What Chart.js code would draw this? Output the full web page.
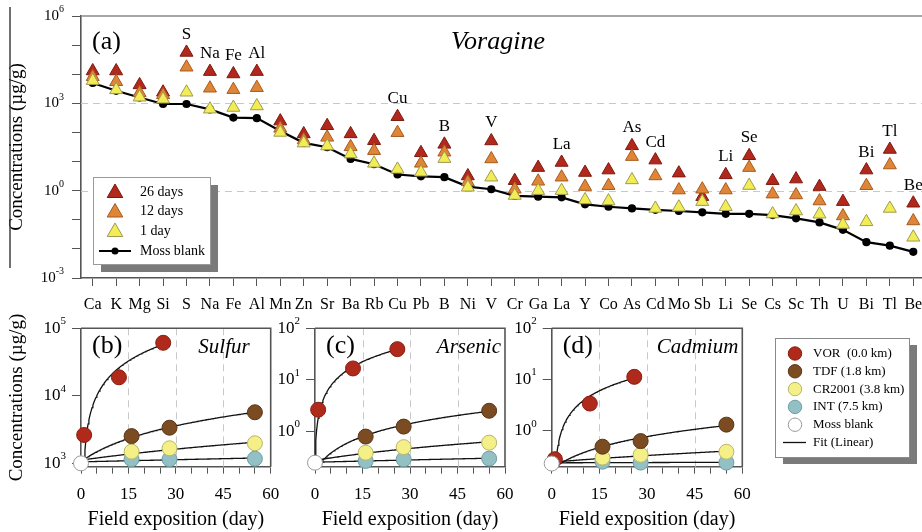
<!DOCTYPE html>
<html><head><meta charset="utf-8">
<script src="https://cdn.jsdelivr.net/npm/chart.js@4/dist/chart.umd.min.js"></script>
<style>
html,body{margin:0;padding:0;overflow:hidden;background:#fff;width:922px;height:532px;position:relative;}
canvas{position:absolute;}
</style></head><body>
<canvas id="ca" width="925" height="320" style="left:0;top:0"></canvas>
<canvas id="cb" width="290" height="232" style="left:0;top:300px"></canvas>
<canvas id="cc" width="245" height="232" style="left:276px;top:300px"></canvas>
<canvas id="cd" width="416" height="232" style="left:506px;top:300px"></canvas>
<script>
// ---------- Panel (a) data (µg/g) ----------
const elements = ['Ca','K','Mg','Si','S','Na','Fe','Al','Mn','Zn','Sr','Ba','Rb','Cu','Pb','B','Ni','V','Cr','Ga','La','Y','Co','As','Cd','Mo','Sb','Li','Se','Cs','Sc','Th','U','Bi','Tl','Be'];
const days26 = [12900,12900,4300,2400,56000,12300,10200,12300,245,89,170,89,52,347,20,39,3.2,51,2.2,6.2,9.3,4.2,5.1,34.7,11.2,4.0,0.62,3.5,15.8,2.2,2.5,1.38,0.42,5.1,26,0.37];
const days12 = [8200,5500,2300,1950,17400,3300,2950,3450,138,55,68,32,23.6,98,8.7,21,2.0,12.3,1.12,2.1,2.9,1.38,1.48,14.8,3.2,1.05,1.12,1.05,6.2,0.76,0.71,0.44,0.135,1.48,7.6,0.091];
const days1 = [6000,2900,1620,1380,2400,630,720,810,100,43,34,18,8.7,5.4,4.3,12.6,1.3,2.9,0.68,1.0,1.0,0.48,0.44,2.34,0.245,0.27,0.42,0.28,1.5,0.158,0.20,0.155,0.069,0.085,0.245,0.025];
const mossBlank = [5000,2700,1580,950,950,620,325,310,112,44,31,12.3,8.1,3.6,3.1,2.9,1.38,1.12,0.66,0.62,0.59,0.34,0.28,0.245,0.22,0.20,0.18,0.16,0.16,0.145,0.112,0.081,0.045,0.017,0.0129,0.0079];
const labelledElements = ['S','Na','Fe','Al','Cu','B','V','La','As','Cd','Li','Se','Bi','Tl','Be'];
const yTicksA = [1e-3,1e-2,1e-1,1e0,1e1,1e2,1e3,1e4,1e5,1e6];
const yLabelExpA = [-3,0,3,6];

// ---------- Panels (b)-(d) data ----------
const vorDays = [1,12,26];
const otherDays = [16,28,55];
const xTicksDays = [0,15,30,45,60];
const sulfurVOR = [2630,18800,61000];
const sulfurTDF = [2530,3370,5700];
const sulfurCR = [1490,1670,1980];
const sulfurINT = [1150,1150,1170];
const sulfurBlank = 1000;
const arsenicVOR = [2.65,16.7,39.5];
const arsenicTDF = [0.80,1.25,2.53];
const arsenicCR = [0.39,0.50,0.61];
const arsenicINT = [0.27,0.29,0.30];
const arsenicBlank = 0.25;
const cadmiumVOR = [0.28,3.4,11.3];
const cadmiumTDF = [0.49,0.63,1.32];
const cadmiumCR = [0.30,0.34,0.39];
const cadmiumINT = [0.25,0.24,0.24];
const cadmiumBlank = 0.23;
const stationNames = ['VOR  (0.0 km)','TDF (1.8 km)','CR2001 (3.8 km)','INT (7.5 km)','Moss blank','Fit (Linear)'];

const SERIF = '"Liberation Serif", "Times New Roman", serif';
const AXIS = '#555';

function zeroPad(s){ s.paddingLeft = 0; s.paddingRight = 0; s.paddingTop = 0; s.paddingBottom = 0; }
function drawPow(ctx, xRight, y, exp, size){
  ctx.save();
  ctx.fillStyle = '#000';
  ctx.textBaseline = 'middle';
  const sup = Math.round(size*0.66);
  ctx.font = sup + 'px ' + SERIF;
  const es = String(exp);
  const ew = ctx.measureText(es).width;
  ctx.textAlign = 'left';
  ctx.fillText(es, xRight - ew, y - size*0.42);
  ctx.font = size + 'px ' + SERIF;
  ctx.textAlign = 'right';
  ctx.fillText('10', xRight - ew, y);
  ctx.restore();
}
function drawTri(ctx, x, y, r, fill, stroke){
  ctx.save();
  ctx.beginPath();
  ctx.moveTo(x, y - r);
  ctx.lineTo(x + r*0.866, y + r*0.5);
  ctx.lineTo(x - r*0.866, y + r*0.5);
  ctx.closePath();
  ctx.fillStyle = fill; ctx.fill();
  ctx.strokeStyle = stroke; ctx.lineWidth = 1; ctx.stroke();
  ctx.restore();
}

Chart.defaults.font.family = SERIF;
Chart.defaults.color = '#000';

// ---------------- Panel (a) ----------------
const triStyles = {
  red: {bg:'#b3281c', bd:'#7d1a10'},
  orange: {bg:'#de8537', bd:'#a85a1c'},
  yellow: {bg:'#f2ec55', bd:'#9e9a55'}
};
const plugA = {
  id:'plugA',
  beforeDatasetsDraw(chart){
    const {ctx, chartArea:ca, scales:{y}} = chart;
    ctx.save();
    ctx.strokeStyle = '#c8c8c8'; ctx.lineWidth = 1; ctx.setLineDash([7,5]);
    [1e0,1e3].forEach(v=>{
      const py = Math.round(y.getPixelForValue(v))+0.5;
      ctx.beginPath(); ctx.moveTo(ca.left, py); ctx.lineTo(ca.right, py); ctx.stroke();
    });
    ctx.restore();
  },
  afterDraw(chart){
    const {ctx, chartArea:ca, scales:{x,y}} = chart;
    ctx.save();
    ctx.strokeStyle = '#8a8a8a'; ctx.lineWidth = 1.6;
    ctx.beginPath(); ctx.moveTo(ca.left, ca.top); ctx.lineTo(ca.right, ca.top); ctx.stroke();
    ctx.strokeStyle = '#222'; ctx.lineWidth = 1.3;
    ctx.beginPath(); ctx.moveTo(10, 7); ctx.lineTo(10, 268); ctx.stroke();
    ctx.restore();
    yLabelExpA.forEach(e=>drawPow(ctx, ca.left - 17, y.getPixelForValue(Math.pow(10,e)), e, 15));
    ctx.save();
    ctx.font = '17px ' + SERIF; ctx.fillStyle = '#000';
    ctx.textAlign = 'center'; ctx.textBaseline = 'middle';
    labelledElements.forEach(el=>{
      const i = elements.indexOf(el);
      ctx.fillText(el, x.getPixelForValue(i), y.getPixelForValue(days26[i]) - 18);
    });
    ctx.font = '26px ' + SERIF; ctx.textAlign = 'left';
    ctx.fillText('(a)', 92, 42);
    ctx.font = 'italic 26px ' + SERIF; ctx.textAlign = 'center';
    ctx.fillText('Voragine', 498, 42);
    ctx.restore();
    const L = {x:93, y:177, w:117, h:87};
    ctx.save();
    ctx.fillStyle = '#7a7a7a'; ctx.fillRect(L.x+8, L.y+8, L.w, L.h);
    ctx.fillStyle = '#fff'; ctx.fillRect(L.x, L.y, L.w, L.h);
    ctx.strokeStyle = '#9a9a9a'; ctx.lineWidth = 1; ctx.strokeRect(L.x+0.5, L.y+0.5, L.w, L.h);
    const ds = chart.data.datasets;
    const rows = [ds[0], ds[1], ds[2]];
    ctx.font = '14px ' + SERIF; ctx.fillStyle = '#000'; ctx.textBaseline = 'middle'; ctx.textAlign = 'left';
    rows.forEach((d,k)=>{
      const ry = 192 + k*19.5;
      drawTri(ctx, 115, ry+1, 9, d.backgroundColor, d.borderColor);
      ctx.fillStyle = '#000';
      ctx.fillText(d.label, 140, ry);
    });
    const my = 251;
    ctx.strokeStyle = '#000'; ctx.lineWidth = 2;
    ctx.beginPath(); ctx.moveTo(99, my); ctx.lineTo(131, my); ctx.stroke();
    ctx.beginPath(); ctx.arc(115, my, 3.5, 0, Math.PI*2); ctx.fillStyle = '#000'; ctx.fill();
    ctx.fillText(ds[3].label, 140, my);
    ctx.restore();
  }
};
new Chart(document.getElementById('ca'), {
  type:'line',
  data:{
    labels: elements,
    datasets:[
      {label:'26 days', data:days26, showLine:false, pointStyle:'triangle', pointRadius:7.5, backgroundColor:triStyles.red.bg, borderColor:triStyles.red.bd, pointBorderWidth:1, order:3, clip:false},
      {label:'12 days', data:days12, showLine:false, pointStyle:'triangle', pointRadius:7.5, backgroundColor:triStyles.orange.bg, borderColor:triStyles.orange.bd, pointBorderWidth:1, order:2, clip:false},
      {label:'1 day', data:days1, showLine:false, pointStyle:'triangle', pointRadius:7.5, backgroundColor:triStyles.yellow.bg, borderColor:triStyles.yellow.bd, pointBorderWidth:1, order:1, clip:false},
      {label:'Moss blank', data:mossBlank, borderColor:'#000', borderWidth:2.2, pointRadius:3, pointBackgroundColor:'#000', pointBorderColor:'#000', tension:0, order:4, clip:false}
    ]
  },
  options:{
    responsive:false, animation:false, events:[],
    layout:{autoPadding:false, padding:{top:16,left:0,right:0,bottom:0}},
    plugins:{legend:{display:false}, tooltip:{enabled:false}},
    scales:{
      x:{type:'category', offset:true,
        grid:{drawOnChartArea:false, tickLength:8, color:AXIS, lineWidth:1, offset:false},
        border:{color:AXIS, width:1.6},
        ticks:{font:{size:16, family:SERIF}, color:'#000', autoSkip:false, maxRotation:0, padding:9},
        afterFit:(s)=>{ s.height = 42; zeroPad(s); }
      },
      y:{type:'logarithmic', min:1e-3, max:1e6,
        afterBuildTicks:(s)=>{ s.ticks = yTicksA.map(v=>({value:v})); },
        grid:{drawOnChartArea:false, tickLength:9, color:AXIS, lineWidth:1},
        border:{color:AXIS, width:1.6},
        ticks:{display:false},
        title:{display:true, text:'Concentrations (µg/g)', font:{size:19, family:SERIF}, color:'#000', padding:{top:6,bottom:0}},
        afterFit:(s)=>{ s.width = 81; zeroPad(s); }
      }
    }
  },
  plugins:[plugA]
});

// ---------------- Panels (b)-(d) ----------------
const COL = {
  vor:{bg:'#b02a1c', bd:'#8a1d12'},
  tdf:{bg:'#7b4b22', bd:'#5a3515'},
  cr:{bg:'#f4ef86', bd:'#b8b46a'},
  int:{bg:'#92c0c5', bd:'#6f9da2'},
  blank:{bg:'#ffffff', bd:'#9a9a9a'}
};
function linFit(xs, ys){
  const n = xs.length;
  const mx = xs.reduce((a,b)=>a+b,0)/n, my = ys.reduce((a,b)=>a+b,0)/n;
  let sxy=0, sxx=0;
  for(let i=0;i<n;i++){ sxy += (xs[i]-mx)*(ys[i]-my); sxx += (xs[i]-mx)*(xs[i]-mx); }
  const b = sxy/sxx; return [my - b*mx, b];
}
function fitLine(days, vals, blank){
  const xs = [0].concat(days), ys = [blank].concat(vals);
  const [a,b] = linFit(xs, ys);
  const end = days[days.length-1];
  const pts = [];
  for(let t=0; t<=end+1e-9; t+=0.25){ const v = a + b*t; pts.push({x:t, y: v>0 ? v : null}); }
  return pts;
}
function pts(days, vals){ return days.map((d,i)=>({x:d, y:vals[i]})); }

function makePanel(id, o){
  const datasets = [];
  [[vorDays,o.vor],[otherDays,o.tdf],[otherDays,o.cr],[otherDays,o.int]].forEach(([d,v])=>{
    datasets.push({data:fitLine(d, v, o.blank), borderColor:'#111', borderWidth:1.3, pointRadius:0, tension:0, order:20, clip:0, spanGaps:false});
  });
  const mk = (data, c, ord)=>({data, showLine:false, pointRadius:7.5, pointBorderWidth:1, backgroundColor:c.bg, borderColor:c.bd, order:ord, clip:false});
  datasets.push(mk(pts(otherDays,o.int), COL.int, 6));
  datasets.push(mk(pts(otherDays,o.cr), COL.cr, 5));
  datasets.push(mk(pts(otherDays,o.tdf), COL.tdf, 4));
  datasets.push(mk(pts(vorDays,o.vor), COL.vor, 3));
  datasets.push(mk([{x:0,y:o.blank}], COL.blank, 1));

  const plug = {
    id:'plug'+id,
    beforeDatasetsDraw(chart){
      const {ctx, chartArea:ca, scales:{x}} = chart;
      ctx.save(); ctx.strokeStyle = '#c8c8c8'; ctx.lineWidth = 1; ctx.setLineDash([7,5]);
      [15,30,45].forEach(v=>{
        const px = Math.round(x.getPixelForValue(v))+0.5;
        ctx.beginPath(); ctx.moveTo(px, ca.top); ctx.lineTo(px, ca.bottom); ctx.stroke();
      });
      ctx.restore();
    },
    afterDraw(chart){
      const {ctx, chartArea:ca, scales:{y}} = chart;
      ctx.save();
      ctx.strokeStyle = AXIS; ctx.lineWidth = 1.6;
      ctx.beginPath(); ctx.moveTo(ca.left, ca.top); ctx.lineTo(ca.right, ca.top); ctx.lineTo(ca.right, ca.bottom); ctx.stroke();
      ctx.restore();
      o.yExp.forEach(e=>drawPow(ctx, ca.left - 15, y.getPixelForValue(Math.pow(10,e)), e, 17));
      ctx.save();
      ctx.fillStyle = '#000'; ctx.textBaseline = 'middle';
      ctx.font = '26px ' + SERIF; ctx.textAlign = 'left';
      ctx.fillText(o.letter, ca.left + 11, ca.top + 18);
      ctx.font = 'italic 21px ' + SERIF; ctx.textAlign = 'right';
      ctx.fillText(o.name, ca.right - o.nameGap, ca.top + 19);
      ctx.restore();
      if(o.legend){
        const L = {x:269, y:38, w:134, h:119};
        ctx.save();
        ctx.fillStyle = '#7a7a7a'; ctx.fillRect(L.x+8, L.y+7, L.w, L.h);
        ctx.fillStyle = '#fff'; ctx.fillRect(L.x, L.y, L.w, L.h);
        ctx.strokeStyle = '#8a8a8a'; ctx.lineWidth = 1; ctx.strokeRect(L.x+0.5, L.y+0.5, L.w, L.h);
        const cols = [COL.vor, COL.tdf, COL.cr, COL.int, COL.blank];
        ctx.font = '13px ' + SERIF; ctx.textBaseline = 'middle'; ctx.textAlign = 'left';
        stationNames.forEach((nm,k)=>{
          const ry = 53.5 + k*17.8;
          if(k<5){
            ctx.beginPath(); ctx.arc(289, ry, 6.7, 0, Math.PI*2);
            ctx.fillStyle = cols[k].bg; ctx.fill();
            ctx.strokeStyle = cols[k].bd; ctx.lineWidth = 1; ctx.stroke();
          } else {
            ctx.strokeStyle = '#111'; ctx.lineWidth = 1.3;
            ctx.beginPath(); ctx.moveTo(277, ry); ctx.lineTo(300, ry); ctx.stroke();
          }
          ctx.fillStyle = '#000';
          ctx.fillText(nm, 307, ry);
        });
        ctx.restore();
      }
    }
  };
  new Chart(document.getElementById(id), {
    type:'line',
    data:{datasets},
    options:{
      responsive:false, animation:false, events:[],
      layout:{autoPadding:false, padding:{top:28.3, left:0, right:o.padRight, bottom:0}},
      plugins:{legend:{display:false}, tooltip:{enabled:false}},
      scales:{
        x:{type:'linear', min:0, max:60,
          ticks:{stepSize:5, autoSkip:false, maxRotation:0, font:{size:17, family:SERIF}, color:'#000', padding:11,
            callback:(v)=> xTicksDays.includes(v) ? String(v) : ''},
          grid:{drawOnChartArea:false, tickLength:7, color:AXIS, lineWidth:1},
          border:{color:AXIS, width:1.6},
          title:{display:true, text:'Field exposition (day)', font:{size:20, family:SERIF}, color:'#000', padding:{top:0,bottom:0}},
          afterFit:(s)=>{ s.height = 65.3; zeroPad(s); }
        },
        y:{type:'logarithmic', min:o.yMin, max:o.yMax,
          afterBuildTicks:(s)=>{ s.ticks = o.yExp.map(e=>({value:Math.pow(10,e)})); },
          grid:{drawOnChartArea:false, tickLength:9, color:AXIS, lineWidth:1},
          border:{color:AXIS, width:1.6},
          ticks:{display:false},
          title:{display:o.yTitle, text:'Concentrations (µg/g)', font:{size:19, family:SERIF}, color:'#000', padding:{top:6,bottom:0}},
          afterFit:(s)=>{ s.width = o.yWidth; zeroPad(s); }
        }
      }
    },
    plugins:[plug]
  });
}

makePanel('cb', {vor:sulfurVOR, tdf:sulfurTDF, cr:sulfurCR, int:sulfurINT, blank:sulfurBlank,
  yMin:Math.pow(10,2.95), yMax:1e5, yExp:[3,4,5], letter:'(b)', name:'Sulfur', nameGap:21,
  yTitle:true, yWidth:81, padRight:19.3, legend:false});
makePanel('cc', {vor:arsenicVOR, tdf:arsenicTDF, cr:arsenicCR, int:arsenicINT, blank:arsenicBlank,
  yMin:Math.pow(10,-0.68), yMax:100, yExp:[0,1,2], letter:'(c)', name:'Arsenic', nameGap:4,
  yTitle:false, yWidth:39, padRight:16, legend:false});
makePanel('cd', {vor:cadmiumVOR, tdf:cadmiumTDF, cr:cadmiumCR, int:cadmiumINT, blank:cadmiumBlank,
  yMin:Math.pow(10,-0.70), yMax:100, yExp:[0,1,2], letter:'(d)', name:'Cadmium', nameGap:4,
  yTitle:false, yWidth:45.7, padRight:179.7, legend:true});
</script>
</body></html>
